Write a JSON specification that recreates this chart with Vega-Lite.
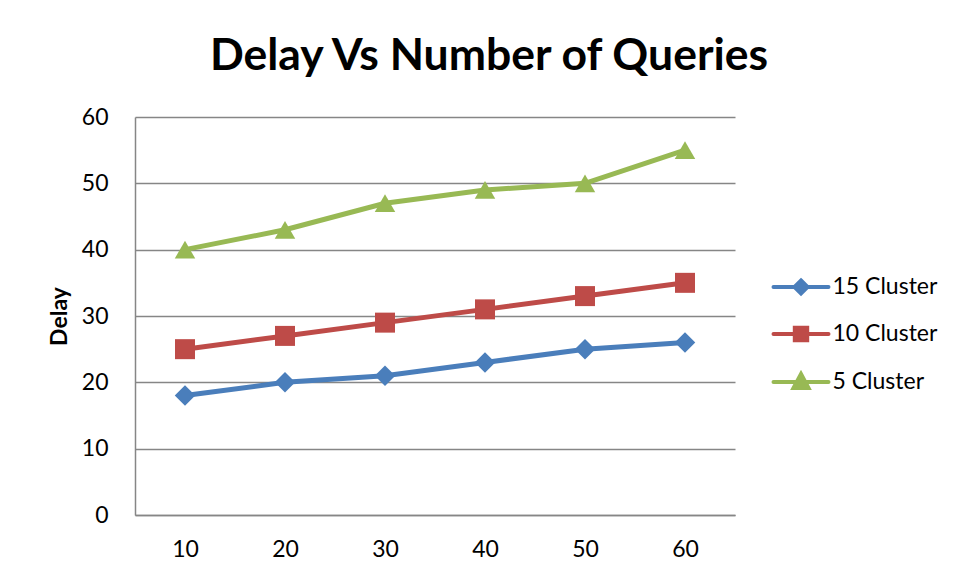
{
  "$schema": "https://vega.github.io/schema/vega-lite/v6.json",
  "width": 600,
  "height": 398,
  "autosize": "none",
  "padding": {"left": 135, "top": 117, "right": 221, "bottom": 63},
  "background": "white",
  "title": {
    "text": "Delay Vs Number of Queries",
    "font": "Lato",
    "fontSize": 44.5,
    "fontWeight": "bold",
    "color": "black",
    "anchor": "middle",
    "frame": "group",
    "dx": 54,
    "offset": 27
  },
  "data": {
    "values": [
      {"queries": 10, "series": "15 Cluster", "delay": 18},
      {"queries": 20, "series": "15 Cluster", "delay": 20},
      {"queries": 30, "series": "15 Cluster", "delay": 21},
      {"queries": 40, "series": "15 Cluster", "delay": 23},
      {"queries": 50, "series": "15 Cluster", "delay": 25},
      {"queries": 60, "series": "15 Cluster", "delay": 26},
      {"queries": 10, "series": "10 Cluster", "delay": 25},
      {"queries": 20, "series": "10 Cluster", "delay": 27},
      {"queries": 30, "series": "10 Cluster", "delay": 29},
      {"queries": 40, "series": "10 Cluster", "delay": 31},
      {"queries": 50, "series": "10 Cluster", "delay": 33},
      {"queries": 60, "series": "10 Cluster", "delay": 35},
      {"queries": 10, "series": "5 Cluster", "delay": 40},
      {"queries": 20, "series": "5 Cluster", "delay": 43},
      {"queries": 30, "series": "5 Cluster", "delay": 47},
      {"queries": 40, "series": "5 Cluster", "delay": 49},
      {"queries": 50, "series": "5 Cluster", "delay": 50},
      {"queries": 60, "series": "5 Cluster", "delay": 55}
    ]
  },
  "encoding": {
    "x": {
      "field": "queries",
      "type": "ordinal",
      "scale": {"type": "point", "padding": 0.5},
      "axis": {
        "title": null,
        "labelAngle": 0,
        "labelFontSize": 23,
        "labelPadding": 23,
        "ticks": false,
        "grid": false,
        "domain": true,
        "domainColor": "#868686",
        "domainWidth": 1.5
      }
    },
    "y": {
      "field": "delay",
      "type": "quantitative",
      "scale": {"domain": [0, 60], "nice": false},
      "axis": {
        "title": "Delay",
        "titleFontSize": 23,
        "titleFontWeight": "bold",
        "titlePadding": 10,
        "values": [0, 10, 20, 30, 40, 50, 60],
        "labelFontSize": 23,
        "labelPadding": 27,
        "ticks": false,
        "grid": true,
        "gridColor": "#868686",
        "gridWidth": 1.5,
        "domain": true,
        "domainColor": "#868686",
        "domainWidth": 1.5
      }
    }
  },
  "layer": [
    {
      "mark": {"type": "line", "strokeWidth": 5},
      "encoding": {
        "color": {
          "field": "series",
          "type": "nominal",
          "scale": {
            "domain": ["15 Cluster", "10 Cluster", "5 Cluster"],
            "range": ["#4a7ebb", "#be4b48", "#98b954"]
          },
          "legend": {
            "title": null,
            "orient": "none",
            "legendX": 654,
            "legendY": 158,
            "padding": 0,
            "symbolSize": 400,
            "labelFontSize": 23,
            "labelFont": "Lato",
            "labelColor": "black",
            "labelOffset": 19.5,
            "rowPadding": 17,
            "symbolStrokeWidth": 4,
            "encode": {
              "symbols": {
                "update": {
                  "shape": {"signal": "datum.value === '15 Cluster' ? 'M-2.75,0L2.75,0M0,-0.65L0.65,0L0,0.65L-0.65,0Z' : datum.value === '10 Cluster' ? 'M-2.75,0L2.75,0M-0.62,-0.62L0.62,-0.62L0.62,0.62L-0.62,0.62Z' : 'M-2.75,0L2.75,0M0,-0.8L0.75,0.6L-0.75,0.6Z'"},
                  "fill": {"signal": "scale('color', datum.value)"},
                  "stroke": {"signal": "scale('color', datum.value)"},
                  "strokeWidth": {"value": 4},
                  "strokeCap": {"value": "round"},
                  "opacity": {"value": 1}
                }
              }
            }
          }
        }
      }
    },
    {
      "transform": [{"filter": "datum.series === '15 Cluster'"}],
      "mark": {"type": "point", "shape": "diamond", "filled": true, "size": 420, "opacity": 1, "color": "#4a7ebb"}
    },
    {
      "transform": [{"filter": "datum.series === '10 Cluster'"}],
      "mark": {"type": "point", "shape": "square", "filled": true, "size": 400, "opacity": 1, "color": "#be4b48"}
    },
    {
      "transform": [{"filter": "datum.series === '5 Cluster'"}],
      "mark": {"type": "point", "shape": "triangle-up", "filled": true, "size": 420, "opacity": 1, "color": "#98b954"}
    }
  ],
  "config": {
    "view": {"stroke": null},
    "axis": {"labelFont": "Lato", "titleFont": "Lato", "labelColor": "black", "titleColor": "black"}
  }
}
